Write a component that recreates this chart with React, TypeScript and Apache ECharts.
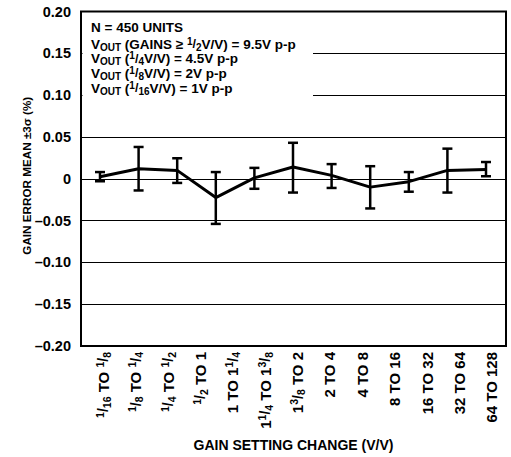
import { useEffect, useRef } from "react";
import * as echarts from "echarts";

// Gain-step categories (rich-text markup for the fractions)
const gainSteps = [
  "{sup|1}{sl|/}{sub|16} TO {sup|1}{sl|/}{sub|8}",
  "{sup|1}{sl|/}{sub|8} TO {sup|1}{sl|/}{sub|4}",
  "{sup|1}{sl|/}{sub|4} TO {sup|1}{sl|/}{sub|2}",
  "{sup|1}{sl|/}{sub|2} TO 1",
  "1 TO 1{sup|1}{sl|/}{sub|4}",
  "1{sup|1}{sl|/}{sub|4} TO 1{sup|3}{sl|/}{sub|8}",
  "1{sup|3}{sl|/}{sub|8} TO 2",
  "2 TO 4",
  "4 TO 8",
  "8 TO 16",
  "16 TO 32",
  "32 TO 64",
  "64 TO 128",
];
const stepTicks = gainSteps.map((_, i) => i);

// Measured gain error (%) : mean and mean ±3σ limits
const errorMean = [0.0025, 0.012, 0.01, -0.0225, 0.001, 0.014, 0.004, -0.01, -0.0035, 0.01, 0.011];
const errorHigh = [0.008, 0.038, 0.0245, 0.008, 0.013, 0.043, 0.0175, 0.015, 0.008, 0.036, 0.02];
const errorLow = [-0.003, -0.014, -0.005, -0.054, -0.012, -0.0165, -0.011, -0.0355, -0.0155, -0.0165, 0.003];

const noteLines = [
  "N = 450 UNITS",
  "V{sub|OUT} (GAINS ≥ {sup|1}{sl|/}{sub|2}V/V) = 9.5V p-p",
  "V{sub|OUT} ({sup|1}{sl|/}{sub|4}V/V) = 4.5V p-p",
  "V{sub|OUT} ({sup|1}{sl|/}{sub|8}V/V) = 2V p-p",
  "V{sub|OUT} ({sup|1}{sl|/}{sub|16}V/V) = 1V p-p",
];

const FONT = "'Liberation Sans', Arial, Helvetica, sans-serif";
const INK = "#000";

function fractionStyles(base: number, small: number, line: number) {
  const common = { fontWeight: "bold" as const, fontFamily: FONT, color: INK };
  return {
    sup: { ...common, fontSize: small, verticalAlign: "top" as const, lineHeight: small + 1 },
    sub: { ...common, fontSize: small, verticalAlign: "bottom" as const, lineHeight: small + 1 },
    sl: { ...common, fontSize: base - 1, lineHeight: line },
  };
}

const GRID = { left: 81, right: 5, top: 11.5, bottom: 106 };
const noteY = [27, 44, 58.5, 73, 88];

export default function App() {
  const ref = useRef<HTMLDivElement>(null);

  useEffect(() => {
    if (!ref.current) return;
    const chart = echarts.init(ref.current, undefined, { renderer: "svg" });

    const pointData = errorMean.map((v, i) => [i, v]);
    const barData = errorMean.map((_, i) => [i, errorLow[i], errorHigh[i]]);

    const option: echarts.EChartsOption = {
      animation: false,
      backgroundColor: "#fff",
      grid: {
        ...GRID,
        show: true,
        borderColor: INK,
        borderWidth: 2,
        backgroundColor: "transparent",
      },
      xAxis: [
        {
          // positions of the measured points
          type: "value",
          position: "bottom",
          show: false,
          min: -0.492,
          max: 10.518,
        },
        {
          // gain-step labels
          type: "value",
          position: "bottom",
          min: -0.689,
          max: 12.44,
          axisLine: { show: false },
          axisTick: { show: false },
          splitLine: { show: false },
          axisLabel: {
            customValues: stepTicks,
            rotate: 90,
            margin: 6,
            fontSize: 15,
            fontWeight: "bold",
            fontFamily: FONT,
            color: INK,
            lineHeight: 18,
            formatter: (v: number) => gainSteps[Math.round(v)] ?? "",
            rich: fractionStyles(15, 10.5, 18),
          },
          name: "GAIN SETTING CHANGE (V/V)",
          nameLocation: "middle",
          nameGap: 92,
          nameMoveOverlap: false,
          nameTextStyle: { fontSize: 14, fontWeight: "bold", fontFamily: FONT, color: INK },
        } as any,
      ],
      yAxis: {
        type: "value",
        min: -0.2,
        max: 0.2,
        interval: 0.05,
        axisLine: { show: false },
        axisTick: { show: true, length: 3, lineStyle: { color: INK, width: 1 } },
        splitLine: { show: true, lineStyle: { color: "#000", width: 1 } },
        axisLabel: {
          margin: 10,
          fontSize: 14.5,
          fontWeight: "bold",
          fontFamily: FONT,
          color: INK,
          formatter: (v: number) => {
            if (Math.abs(v) < 1e-9) return "0";
            return (v < 0 ? "–" : "") + Math.abs(v).toFixed(2);
          },
        },
        name: "GAIN ERROR MEAN ±3σ (%)",
        nameLocation: "middle",
        nameGap: 49,
        nameMoveOverlap: false,
        nameTextStyle: {
          fontSize: 11.7,
          fontWeight: "bold",
          fontFamily: FONT,
          color: INK,
          padding: [0, 0, 0, 6],
        },
      } as any,
      graphic: [
        {
          type: "rect",
          z: 5,
          shape: { x: 82.5, y: 14, width: 230.5, height: 88 },
          style: { fill: "#fff" },
        },
        ...noteLines.map((t, i) => ({
          type: "text" as const,
          z: 6,
          x: 91,
          y: noteY[i],
          style: {
            text: t,
            fontSize: 13.5,
            fontWeight: "bold" as const,
            fontFamily: FONT,
            fill: INK,
            verticalAlign: "middle" as const,
            lineHeight: 16,
            rich: fractionStyles(13.5, 10, 16),
          },
        })),
      ],
      series: [
        {
          type: "line",
          xAxisIndex: 0,
          yAxisIndex: 0,
          data: pointData,
          showSymbol: false,
          symbol: "none",
          lineStyle: { color: INK, width: 3 },
          z: 10,
        },
        {
          type: "custom",
          xAxisIndex: 0,
          yAxisIndex: 0,
          data: barData,
          encode: { x: 0, y: [1, 2] },
          z: 11,
          renderItem: (_params: any, api: any) => {
            const x = api.value(0);
            const top = api.coord([x, api.value(2)]);
            const bot = api.coord([x, api.value(1)]);
            const half = 5;
            const style = { stroke: INK, lineWidth: 2.5 };
            return {
              type: "group",
              children: [
                { type: "line", shape: { x1: top[0], y1: top[1], x2: bot[0], y2: bot[1] }, style },
                { type: "line", shape: { x1: top[0] - half, y1: top[1], x2: top[0] + half, y2: top[1] }, style },
                { type: "line", shape: { x1: bot[0] - half, y1: bot[1], x2: bot[0] + half, y2: bot[1] }, style },
              ],
            };
          },
        },
      ],
    };

    chart.setOption(option);
    return () => chart.dispose();
  }, []);

  return (
    <div
      ref={ref}
      style={{ position: "fixed", left: 0, top: 0, width: 511, height: 457, background: "#fff" }}
    />
  );
}
